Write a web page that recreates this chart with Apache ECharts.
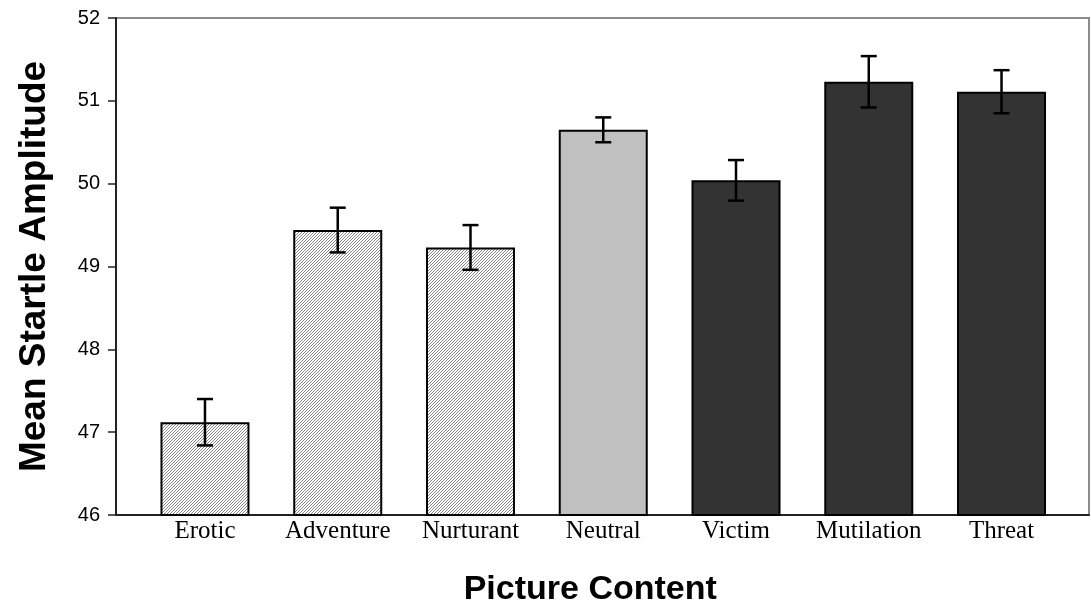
<!DOCTYPE html>
<html>
<head>
<meta charset="utf-8">
<script src="https://cdn.jsdelivr.net/npm/echarts@6/dist/echarts.min.js"></script>
<style>
  html, body { margin: 0; padding: 0; background: #fff; }
  #chart { width: 1091px; height: 607px; }
</style>
</head>
<body>
<div id="chart"></div>
<script>
const categories = ['Erotic', 'Adventure', 'Nurturant', 'Neutral', 'Victim', 'Mutilation', 'Threat'];
const means = [47.12, 49.44, 49.23, 50.65, 50.04, 51.23, 51.11];
const errors = [0.28, 0.27, 0.27, 0.15, 0.245, 0.31, 0.26];
const groups = ['pleasant', 'pleasant', 'pleasant', 'neutral', 'unpleasant', 'unpleasant', 'unpleasant'];
const yTicks = { min: 46, max: 52, interval: 1 };

// fine diagonal hatch for the pleasant pictures
function hatch() {
  const c = document.createElement('canvas');
  c.width = 3; c.height = 3;
  const g = c.getContext('2d');
  g.fillStyle = '#ffffff';
  g.fillRect(0, 0, 3, 3);
  g.fillStyle = '#8a8a8a';
  // one pixel per row, shifted -> diagonal lines
  g.fillRect(2, 0, 1, 1);
  g.fillRect(1, 1, 1, 1);
  g.fillRect(0, 2, 1, 1);
  return c;
}
const fills = {
  pleasant: { image: hatch(), repeat: 'repeat' },
  neutral: '#c0c0c0',
  unpleasant: '#333333'
};

const chart = echarts.init(document.getElementById('chart'), null, { renderer: 'canvas' });

chart.setOption({
  animation: false,
  grid: [
    // frame with the visible axes
    { left: 116, right: 2, top: 18, bottom: 92, show: true, borderColor: '#8c8c8c', borderWidth: 2, backgroundColor: '#fff', outerBoundsMode: 'none', containLabel: false },
    // where the bars sit
    { left: 138.6, right: 23.1, top: 18, bottom: 92, outerBoundsMode: 'none', containLabel: false }
  ],
  xAxis: [
    {
      gridIndex: 0, type: 'category', data: [''],
      axisLine: { lineStyle: { color: '#222', width: 2 } },
      axisTick: { show: false }, axisLabel: { show: false }
    },
    {
      gridIndex: 1, type: 'category', data: categories,
      axisLine: { show: false }, axisTick: { show: false },
      axisLabel: { interval: 0, color: '#000', fontFamily: 'Liberation Serif', fontSize: 25, margin: 4 },
      name: 'Picture Content', nameLocation: 'middle', nameGap: 58,
      nameTextStyle: { color: '#000', fontFamily: 'Liberation Sans', fontWeight: 'bold', fontSize: 34, padding: [0, 26, 0, 0] }
    }
  ],
  yAxis: [
    {
      gridIndex: 0, type: 'value', min: yTicks.min, max: yTicks.max, interval: yTicks.interval,
      axisLine: { show: true, lineStyle: { color: '#222', width: 2 } },
      axisTick: { show: true, length: 8, lineStyle: { color: '#222', width: 1.5 } },
      splitLine: { show: false },
      axisLabel: { color: '#000', fontFamily: 'Liberation Sans', fontSize: 20, margin: 16 },
      name: 'Mean Startle Amplitude', nameLocation: 'middle', nameGap: 63, nameRotate: 90,
      nameTextStyle: { color: '#000', fontFamily: 'Liberation Sans', fontWeight: 'bold', fontSize: 37 }
    },
    {
      gridIndex: 1, type: 'value', min: yTicks.min, max: yTicks.max, interval: yTicks.interval,
      show: false, splitLine: { show: false }
    }
  ],
  series: [
    {
      type: 'bar', xAxisIndex: 1, yAxisIndex: 1, barWidth: 89,
      data: means.map((v, i) => ({
        value: v,
        itemStyle: { color: fills[groups[i]], borderColor: '#000', borderWidth: 2 }
      }))
    },
    {
      type: 'custom', xAxisIndex: 1, yAxisIndex: 1, z: 5,
      data: means.map((v, i) => [i, v - errors[i], v + errors[i]]),
      renderItem: function (params, api) {
        const lo = api.coord([api.value(0), api.value(1)]);
        const hi = api.coord([api.value(0), api.value(2)]);
        const w = 8;
        const st = { stroke: '#000', lineWidth: 2.5 };
        return {
          type: 'group',
          children: [
            { type: 'line', shape: { x1: lo[0], y1: lo[1], x2: hi[0], y2: hi[1] }, style: st },
            { type: 'line', shape: { x1: lo[0] - w, y1: lo[1], x2: lo[0] + w, y2: lo[1] }, style: st },
            { type: 'line', shape: { x1: hi[0] - w, y1: hi[1], x2: hi[0] + w, y2: hi[1] }, style: st }
          ]
        };
      }
    }
  ]
});
</script>
</body>
</html>
